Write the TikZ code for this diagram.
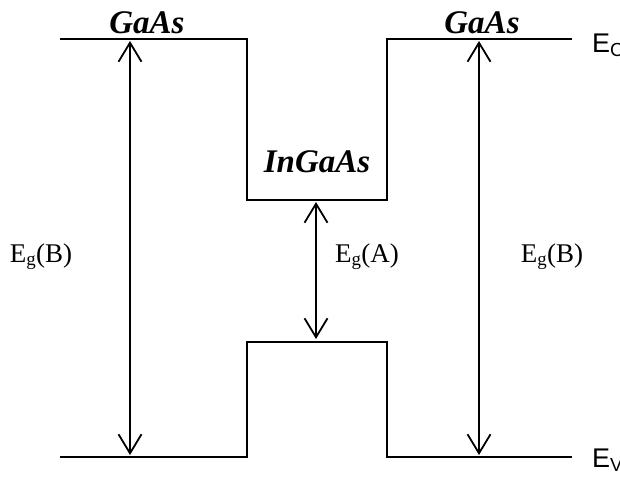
\documentclass[tikz,border=0pt]{standalone}
\usepackage{fontspec}
\setmainfont{Liberation Serif}
\newfontfamily\labelsans{Liberation Sans}
\usetikzlibrary{arrows.meta}
\begin{document}
\begin{tikzpicture}[x=1pt,y=-1pt,
  band/.style={line width=1.8pt, line join=miter},
  gap/.style={line width=1.8pt, {Straight Barb[length=19pt,width=23pt]}-{Straight Barb[length=19pt,width=23pt]}},
  mat/.style={font=\fontsize{33}{36}\selectfont\bfseries\itshape, inner sep=0pt, anchor=base},
  eg/.style={font=\fontsize{27}{30}\selectfont, inner sep=0pt, anchor=base},
  edgelabel/.style={font=\fontsize{27}{30}\selectfont\labelsans, inner sep=0pt, anchor=base west}]
\useasboundingbox (0,0) rectangle (620,480);
% band edges
\coordinate (c1) at (60,39);
\coordinate (c2) at (247,39);
\coordinate (c3) at (247,200);
\coordinate (c4) at (387,200);
\coordinate (c5) at (387,39);
\coordinate (c6) at (572,39);
\coordinate (v1) at (60,457);
\coordinate (v2) at (247,457);
\coordinate (v3) at (247,342);
\coordinate (v4) at (387,342);
\coordinate (v5) at (387,457);
\coordinate (v6) at (572,457);
\draw[band] (c1) -- (c2) -- (c3) -- (c4) -- (c5) -- (c6);
\draw[band] (v1) -- (v2) -- (v3) -- (v4) -- (v5) -- (v6);
% gap arrows
\coordinate (la) at (130,41);
\coordinate (lb) at (130,455);
\coordinate (ma) at (316,202);
\coordinate (mb) at (316,339);
\coordinate (ra) at (479,41);
\coordinate (rb) at (479,455);
\draw[gap] (la) -- (lb);
\draw[gap] (ma) -- (mb);
\draw[gap] (ra) -- (rb);
% labels
\node[mat] (gaasL) at (147,33) {GaAs};
\node[mat] (gaasR) at (482,33) {GaAs};
\node[mat] (ingaas) at (317,172) {InGaAs};
\node[eg] (egBL) at (41,262) {E\textsubscript{g}(B)};
\node[eg] (egA) at (367,262) {E\textsubscript{g}(A)};
\node[eg] (egBR) at (552,262) {E\textsubscript{g}(B)};
\node[edgelabel] (ec) at (592,52) {E\textsubscript{C}};
\node[edgelabel] (ev) at (592,467) {E\textsubscript{V}};
\end{tikzpicture}
\end{document}
